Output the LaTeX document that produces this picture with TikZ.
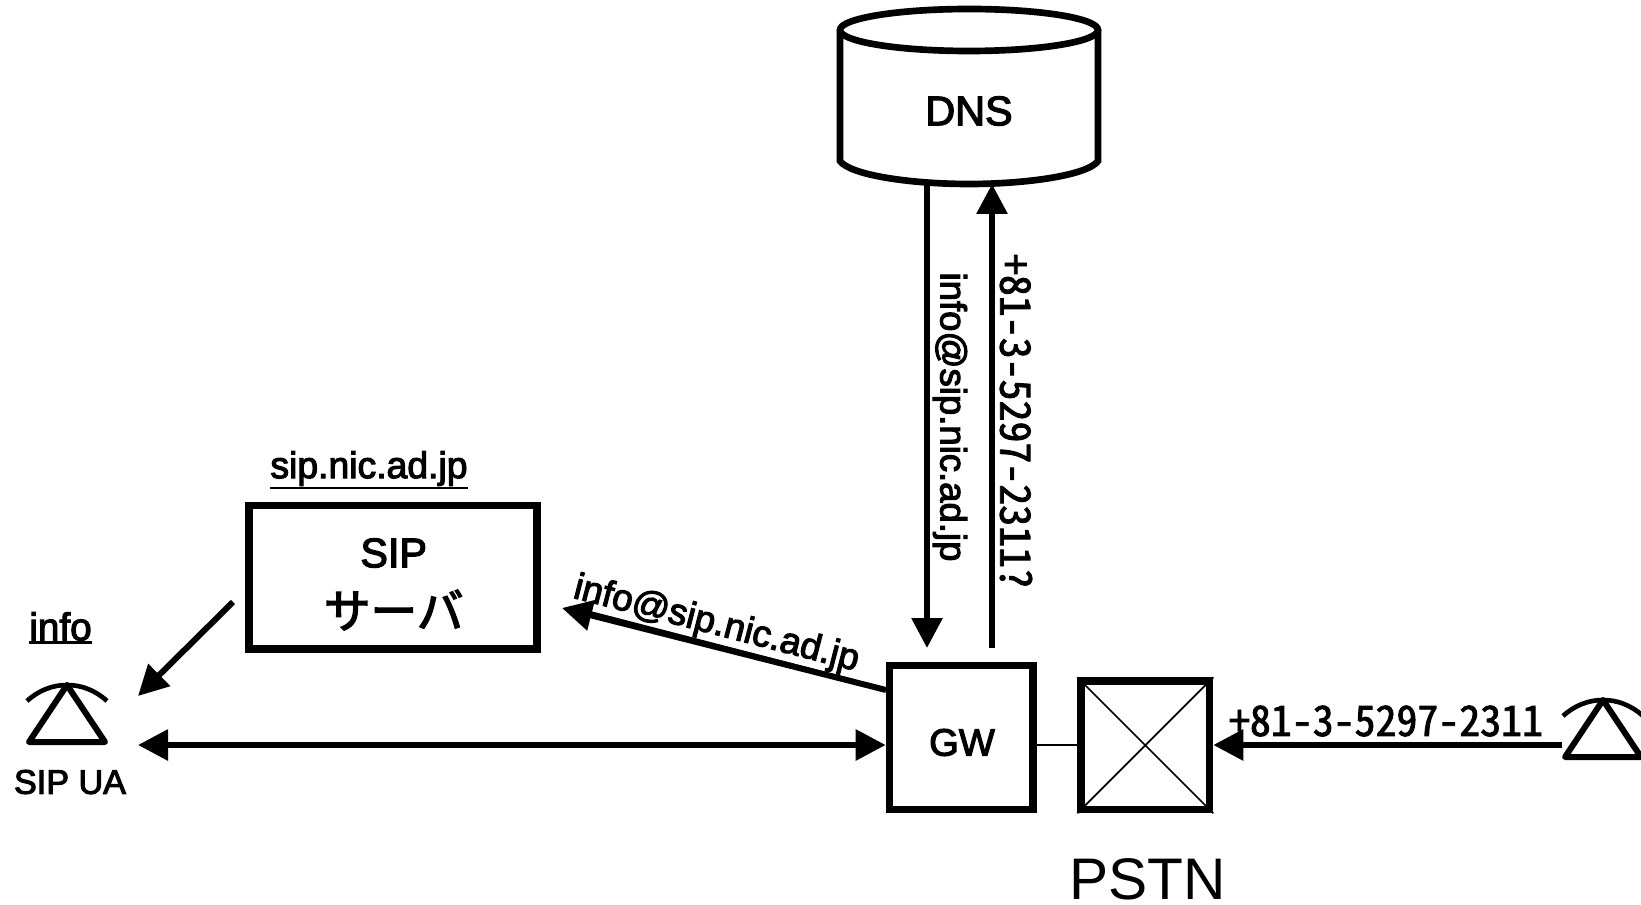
\documentclass[tikz,border=0pt]{standalone}
\usepackage{fontspec}
\setmainfont[FakeBold=3]{Liberation Sans}
\newfontfamily\cjkfont[FakeBold=3]{Noto Sans CJK JP}
\newfontfamily\numfont[RawFeature=+hwid,FakeBold=2]{Noto Sans CJK JP}
\newfontfamily\pstnfont{Liberation Sans}
\usetikzlibrary{arrows.meta}
\newcommand{\ultext}[1]{\vtop{\hbox{#1}\kern.5pt\hrule height 1.8pt}}
\tikzset{
  flow/.style={line width=4.5pt,-{Triangle[length=22.5pt,width=22.5pt]}},
  flowboth/.style={line width=4.5pt,{Triangle[length=22.5pt,width=22.5pt]}-{Triangle[length=22.5pt,width=22.5pt]}},
  boxthick/.style={draw,line width=5.5pt,inner sep=0pt},
  txt/.style={inner sep=0pt,font=\fontsize{#1}{#1}\selectfont},
  phone/.pic={
    \draw[line width=4.5pt,line join=round] (-38,59) -- (0,2) -- (38,59) -- cycle;
    \draw[line width=3.5pt] (-40,18) .. controls (-28,7) and (-14,2) .. (0,2) .. controls (14,2) and (28,7) .. (40,18);
  }
}
\begin{document}
\begin{tikzpicture}[x=.75pt,y=-.75pt]
\useasboundingbox (0,0) rectangle (1641,905);

% cylinder
\coordinate (dnsin) at (927,184);
\coordinate (dnsout) at (992,184);
\draw[line width=5pt] (969,30) ellipse (129 and 21);
\draw[line width=5pt] (840,30) -- (840,161) .. controls (850,175) and (910,184) .. (969,184) .. controls (1028,184) and (1088,175) .. (1098,161) -- (1098,30);
\node[txt=31pt] (dns) at (969,111) {DNS};

\node[boxthick,minimum width=216pt,minimum height=107.6pt] (sipbox) at (393,577.2) {};
\node[txt=31pt] (siplabel) at (393.7,553) {SIP};
\node[txt=35pt,font=\cjkfont\fontsize{35pt}{35pt}\selectfont] (sipkana) at (393.7,610) {サーバ};
\node[txt=28pt] (sipname) at (369,470) {\ultext{sip.nic.ad.jp}};

\node[boxthick,minimum width=107.8pt,minimum height=107.8pt] (gw) at (961.2,737.5) {};
\node[txt=28.6pt] (gwlabel) at (962,742.5) {GW};
\node[boxthick,minimum width=96.5pt,minimum height=96.5pt] (pstn) at (1145.3,745.3) {};
\draw[line width=1.3pt] (pstn.north west) -- (pstn.south east) (pstn.north east) -- (pstn.south west);
\draw[line width=1.3pt] (gw.east |- pstn.west) -- (pstn.west);
\node[inner sep=0pt,anchor=base,text depth=0pt,font=\fontsize{44pt}{44pt}\pstnfont] (pstnname) at (1147.5,899) {PSTN};

\pic at (67,683) {phone};
\pic at (1603,698) {phone};
\node[txt=29pt] (uaname) at (60.5,628) {\ultext{info}};
\node[txt=25.6pt] (ualabel) at (70,782) {SIP UA};

\coordinate (uatop) at (138,696);
\coordinate (uabot) at (138,745);
\coordinate (sipout) at (233,602);
\coordinate (sipin) at (562,608);
\coordinate (gwleft) at (886,690);
\coordinate (telin) at (1562,745);
\coordinate (gwtop1) at (927,648);
\coordinate (gwtop2) at (992,648);

\draw[flow] (sipout) -- (uatop);
\draw[flowboth] (uabot) -- (gw.west |- uabot);
\draw[flow] (gwleft) -- (sipin);
\draw[flow] (dnsin) -- (gwtop1);
\draw[flow] (gwtop2) -- (dnsout);
\draw[flow] (telin) -- (pstn.east |- telin);

\node[txt=27.8pt,rotate=-14.5] (addr) at (716,626.5) {\ultext{info@sip.nic.ad.jp}};
\node[txt=27.4pt,rotate=-90] (addrdns) at (950,417) {info@sip.nic.ad.jp};
\node[inner sep=0pt,rotate=-90,font=\numfont\fontsize{31.4pt}{31.4pt}\selectfont] (numdns) at (1016,421.5) {+81-3-5297-2311?};
\node[inner sep=0pt,font=\numfont\fontsize{31.4pt}{31.4pt}\selectfont] (num) at (1386,721) {+81-3-5297-2311};
\end{tikzpicture}
\end{document}
